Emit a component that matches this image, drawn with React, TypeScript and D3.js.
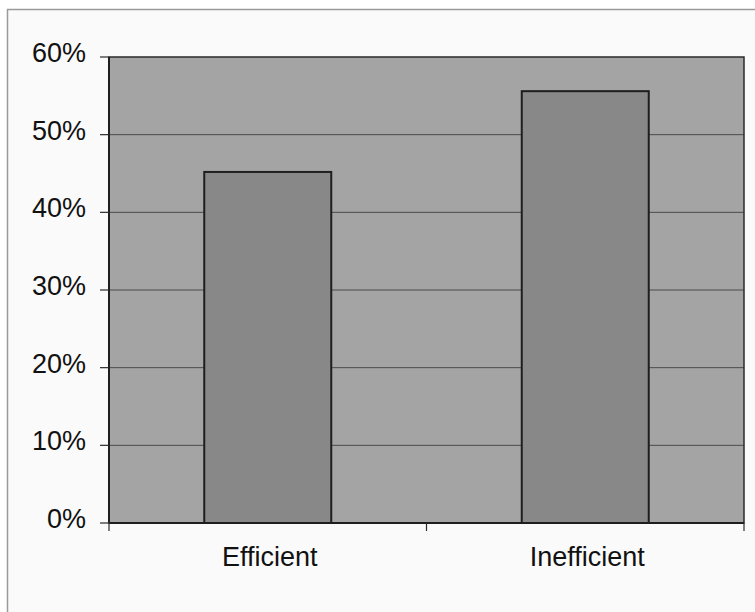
import React from "react";
import * as d3 from "d3";

const categories = ["Efficient", "Inefficient"];
const values = [0.452, 0.556];
const yTicks = [0, 0.1, 0.2, 0.3, 0.4, 0.5, 0.6];

const W = 755;
const H = 612;
const plot = { left: 109, right: 744, top: 57, bottom: 523 };

export default function App() {
  const x = d3
    .scaleBand<string>()
    .domain(categories)
    .range([plot.left, plot.right])
    .paddingInner(0.6)
    .paddingOuter(0.3);
  const xCat = d3.scaleBand<string>().domain(categories).range([plot.left, plot.right]).padding(0);
  const y = d3.scaleLinear().domain([0, 0.6]).range([plot.bottom, plot.top]);
  const fmt = d3.format(".0%");
  const font = "'Liberation Sans', Arial, sans-serif";
  const catEdges = [plot.left, ...categories.map((c) => (xCat(c) as number) + xCat.bandwidth())];

  return (
    <svg
      width={W}
      height={H}
      style={{ position: "absolute", left: 0, top: 0, background: "#ffffff" }}
    >
      <rect x={7.5} y={9.5} width={W} height={H} fill="#fafafa" stroke="#9a9a9a" strokeWidth={1.5} />
      <rect
        x={plot.left}
        y={plot.top}
        width={plot.right - plot.left}
        height={plot.bottom - plot.top}
        fill="#a4a4a4"
      />
      {yTicks.slice(1, -1).map((t) => (
        <line
          key={"g" + t}
          x1={plot.left}
          x2={plot.right}
          y1={y(t)}
          y2={y(t)}
          stroke="#4a4a4a"
          strokeWidth={1}
        />
      ))}
      <rect
        x={plot.left}
        y={plot.top}
        width={plot.right - plot.left}
        height={plot.bottom - plot.top}
        fill="none"
        stroke="#2a2a2a"
        strokeWidth={1.5}
      />
      {categories.map((c, i) => (
        <rect
          key={c}
          x={x(c)}
          y={y(values[i])}
          width={x.bandwidth()}
          height={plot.bottom - y(values[i])}
          fill="#888888"
          stroke="#1e1e1e"
          strokeWidth={2}
        />
      ))}
      <line x1={plot.left} x2={plot.left} y1={plot.top} y2={plot.bottom} stroke="#1e1e1e" strokeWidth={2} />
      <line x1={plot.left} x2={plot.right} y1={plot.bottom} y2={plot.bottom} stroke="#1e1e1e" strokeWidth={2} />
      {yTicks.map((t) => (
        <g key={"t" + t}>
          <line x1={plot.left - 9} x2={plot.left} y1={y(t)} y2={y(t)} stroke="#2a2a2a" strokeWidth={1.2} />
          <text
            x={86}
            y={y(t) + 5}
            textAnchor="end"
            fontFamily={font}
            fontSize={27}
            fill="#111"
          >
            {fmt(t)}
          </text>
        </g>
      ))}
      {catEdges.map((e, i) => (
        <line key={"xt" + i} x1={e} x2={e} y1={plot.bottom} y2={plot.bottom + 8} stroke="#2a2a2a" strokeWidth={1.2} />
      ))}
      {categories.map((c) => (
        <text
          key={"l" + c}
          x={(xCat(c) as number) + xCat.bandwidth() / 2 + 2}
          y={566}
          textAnchor="middle"
          fontFamily={font}
          fontSize={27}
          fill="#111"
        >
          {c}
        </text>
      ))}
    </svg>
  );
}
